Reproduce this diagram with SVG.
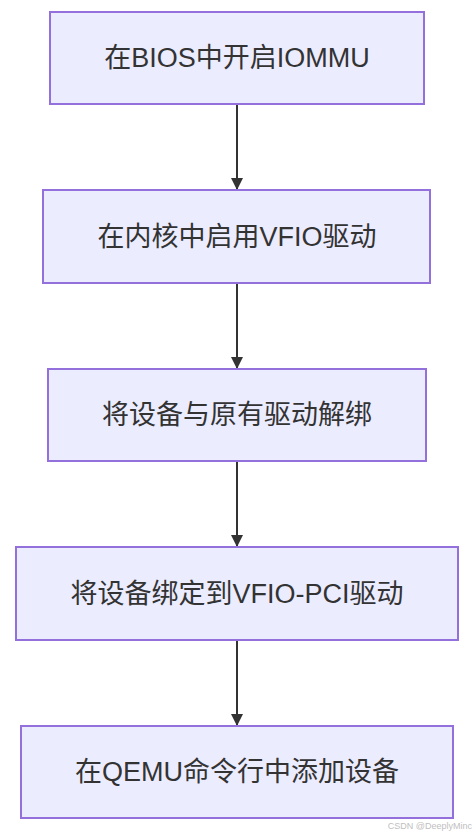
<svg xmlns="http://www.w3.org/2000/svg" width="474" height="837" viewBox="0 0 474 837">
<style>
.box{fill:#ECECFF;stroke:#9370DB;stroke-width:2}
.lbl{font-family:"Liberation Sans","Noto Sans CJK SC",sans-serif;font-size:27px;fill:#333;text-anchor:middle;dominant-baseline:central}
.edge{stroke:#333;stroke-width:2;fill:none}
.wm{font-family:"Liberation Sans","Noto Sans CJK SC",sans-serif;font-size:9px;fill:#c0c0c0;text-anchor:end}
</style>
<defs>
<marker id="arr" viewBox="0 0 12 12" refX="12" refY="6" markerWidth="12" markerHeight="12" markerUnits="userSpaceOnUse" orient="auto">
<path d="M0,0 L12,6 L0,12 z" fill="#333"/>
</marker>
</defs>
<rect width="474" height="837" fill="#fff"/>
<g id="edges">
<line class="edge" x1="237" y1="104" x2="237" y2="190" marker-end="url(#arr)"/>
<line class="edge" x1="237" y1="283" x2="237" y2="369" marker-end="url(#arr)"/>
<line class="edge" x1="237" y1="461" x2="237" y2="547" marker-end="url(#arr)"/>
<line class="edge" x1="237" y1="640" x2="237" y2="726" marker-end="url(#arr)"/>
</g>
<g id="n1"><rect class="box" x="50" y="12" width="374" height="92"/><text class="lbl" x="237" y="58">在BIOS中开启IOMMU</text></g>
<g id="n2"><rect class="box" x="43" y="190" width="387" height="93"/><text class="lbl" x="237" y="236.5">在内核中启用VFIO驱动</text></g>
<g id="n3"><rect class="box" x="48" y="369" width="378" height="92"/><text class="lbl" x="237" y="415">将设备与原有驱动解绑</text></g>
<g id="n4"><rect class="box" x="16" y="547" width="442" height="93"/><text class="lbl" x="237" y="593.5">将设备绑定到VFIO-PCI驱动</text></g>
<g id="n5"><rect class="box" x="21" y="726" width="432" height="92"/><text class="lbl" x="237" y="772">在QEMU命令行中添加设备</text></g>
<text class="wm" x="472" y="829">CSDN @DeeplyMinc</text>
</svg>
